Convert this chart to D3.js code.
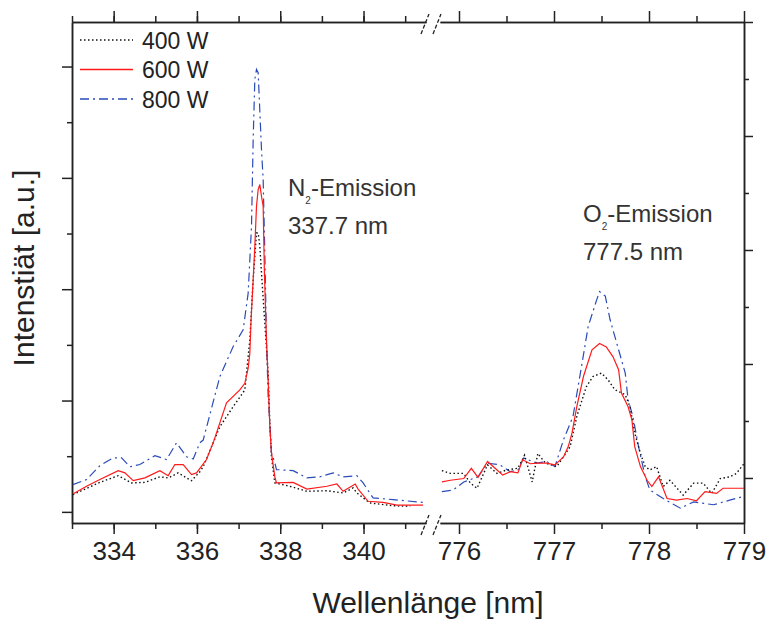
<!DOCTYPE html>
<html>
<head>
<meta charset="utf-8">
<script src="https://cdn.jsdelivr.net/npm/d3@7"></script>
<style>
  body { margin: 0; background: #fff; }
  svg { font-family: "Liberation Sans", Arial, sans-serif; }
</style>
</head>
<body>
<svg width="768" height="621"></svg>
<script>
const width = 768;
const height = 621;

// N2 band (left panel), wavelength in nm / intensity in a.u.
const leftNm400 = [333.02,333.67,334.11,334.43,334.75,335.11,335.31,335.55,335.87,336.07,336.15,336.55,336.87,337.15,337.27,337.35,337.43,337.47,337.51,337.55,337.63,337.71,337.75,337.79,337.87,338.23,338.64,339.12,339.51,339.75,339.84,340.15,340.71,341.12];
const leftI400 = [0.31,0.53,0.65,0.52,0.53,0.63,0.61,0.70,0.56,0.72,0.81,1.53,1.89,2.19,3.09,4.17,5.01,5.01,4.77,4.29,3.39,2.49,1.60,0.99,0.52,0.46,0.37,0.38,0.34,0.43,0.34,0.16,0.11,0.10];

const leftNm600 = [333.02,333.35,333.67,334.11,334.27,334.47,334.75,335.11,335.31,335.47,335.67,335.87,335.99,336.23,336.39,336.71,337.03,337.15,337.23,337.27,337.30,337.35,337.39,337.43,337.47,337.51,337.55,337.59,337.62,337.67,337.71,337.75,337.79,337.87,337.91,338.31,338.64,339.12,339.36,339.51,339.80,339.87,340.11,340.47,340.80,341.43];
const leftI600 = [0.32,0.46,0.58,0.74,0.70,0.56,0.61,0.74,0.65,0.85,0.85,0.67,0.70,0.94,1.24,1.96,2.19,2.31,2.58,2.85,3.45,4.17,4.77,5.49,5.79,5.88,5.67,5.49,4.29,3.09,2.37,1.53,1.06,0.63,0.52,0.53,0.41,0.46,0.50,0.37,0.50,0.41,0.19,0.17,0.12,0.12];

const leftNm800 = [333.02,333.35,333.67,333.99,334.19,334.39,334.63,334.99,335.27,335.51,335.75,335.91,336.07,336.15,336.55,336.87,337.11,337.23,337.31,337.35,337.39,337.43,337.47,337.55,337.59,337.63,337.67,337.71,337.75,337.79,337.87,337.91,338.31,338.64,338.95,339.27,339.51,339.84,339.99,340.23,340.71,341.43];
const leftI800 = [0.49,0.58,0.83,0.97,0.97,0.81,0.85,1.01,0.94,1.24,0.99,0.95,1.24,1.29,2.43,2.97,3.27,3.93,5.13,6.69,7.77,7.95,7.89,6.51,5.97,4.65,3.09,2.07,1.60,1.06,0.88,0.76,0.74,0.61,0.63,0.70,0.63,0.65,0.52,0.25,0.22,0.17];

// O2 line (right panel)
const rightNm400 = [775.82,775.91,776.05,776.12,776.19,776.30,776.40,776.50,776.62,776.69,776.77,776.83,776.91,777.03,777.17,777.24,777.34,777.41,777.50,777.57,777.64,777.75,777.80,777.85,777.91,777.96,778.01,778.08,778.15,778.22,778.36,778.47,778.57,778.66,778.75,778.85,778.92,779.00];
const rightI400 = [0.13,0.08,0.08,-0.09,-0.18,0.23,0.08,0.14,0.17,0.40,-0.07,0.43,0.26,0.20,0.55,1.08,1.60,1.78,1.84,1.72,1.55,1.46,1.25,0.79,0.43,0.20,0.14,0.20,-0.15,-0.04,-0.30,-0.09,-0.09,-0.27,-0.01,0.02,0.08,0.25];

const rightNm600 = [775.82,775.91,776.05,776.13,776.20,776.30,776.38,776.46,776.54,776.62,776.67,776.75,776.82,776.92,777.01,777.10,777.15,777.19,777.24,777.31,777.40,777.48,777.55,777.62,777.68,777.71,777.78,777.82,777.85,777.91,777.98,778.03,778.10,778.19,778.29,778.40,778.50,778.59,778.71,778.78,778.85,779.00];
const rightI600 = [-0.07,-0.04,-0.01,0.17,0.01,0.29,0.17,0.05,0.11,0.09,0.32,0.25,0.26,0.26,0.23,0.37,0.55,0.79,1.25,1.78,2.25,2.36,2.30,2.13,1.90,1.49,1.25,1.02,0.55,0.20,-0.04,-0.15,0.02,-0.36,-0.39,-0.36,-0.40,-0.24,-0.27,-0.18,-0.18,-0.18];

const rightNm800 = [775.82,775.94,776.05,776.20,776.30,776.43,776.54,776.62,776.68,776.82,776.92,777.01,777.10,777.20,777.29,777.36,777.45,777.48,777.54,777.59,777.68,777.75,777.78,777.83,777.89,777.96,778.01,778.15,778.33,778.47,778.68,778.85,779.00];
const rightI800 = [-0.24,-0.21,-0.07,0.02,0.26,0.23,0.11,0.14,0.35,0.26,0.29,0.20,0.67,1.08,1.96,2.66,3.13,3.27,3.19,2.78,2.25,1.84,1.37,1.08,0.55,0.02,-0.21,-0.36,-0.53,-0.42,-0.47,-0.39,-0.32];

const seriesNames = ["400 W", "600 W", "800 W"];
const leftTicksMajor = [334, 336, 338, 340];
const leftTicksMinor = [333, 334, 335, 336, 337, 338, 339, 340, 341];
const rightTicksMajor = [776, 777, 778, 779];
const rightTicksMinor = [776.5, 777.5, 778.5];
const yTicksMajor = [0, 2, 4, 6, 8];
const yTicksMinor = [1, 3, 5, 7];

const styles = {
  "400 W": { color: "#111", dash: "1.5,2.5", width: 1.4 },
  "600 W": { color: "#ff1a1a", dash: null, width: 1.2 },
  "800 W": { color: "#2a4bb8", dash: "9,4,2,4", width: 1.2 }
};

const plotTop = 22, plotBottom = 523;
const xLeft = d3.scaleLinear().domain([333, 341.5]).range([72, 426]);
const xRight = d3.scaleLinear().domain([775.8, 779]).range([440, 744]);
const yLeft = d3.scaleLinear().domain([-0.2, 8.8]).range([plotBottom, plotTop]);
const yRight = d3.scaleLinear().domain([-0.79, 8.0]).range([plotBottom, plotTop]);

const svg = d3.select("svg");
const axisColor = "#222";

function styleAxis(g) {
  g.select(".domain").attr("stroke", axisColor).attr("stroke-width", 1.5);
  g.selectAll(".tick line").attr("stroke", axisColor).attr("stroke-width", 1.5);
}

function xAxes(scale, major, minor) {
  // bottom minor + major
  svg.append("g").attr("transform", `translate(0,${plotBottom})`)
    .call(d3.axisBottom(scale).tickValues(minor).tickSize(6).tickSizeOuter(0).tickFormat(""))
    .call(styleAxis);
  const b = svg.append("g").attr("transform", `translate(0,${plotBottom})`)
    .call(d3.axisBottom(scale).tickValues(major).tickSize(11).tickSizeOuter(0).tickFormat(d3.format("d")))
    .call(styleAxis);
  b.selectAll("text").attr("y", 37).attr("dy", null)
    .attr("font-size", 26).attr("font-family", "Liberation Sans, Arial, sans-serif").attr("fill", "#222");
  // top
  svg.append("g").attr("transform", `translate(0,${plotTop})`)
    .call(d3.axisTop(scale).tickValues(minor).tickSize(6).tickSizeOuter(0).tickFormat(""))
    .call(styleAxis);
  svg.append("g").attr("transform", `translate(0,${plotTop})`)
    .call(d3.axisTop(scale).tickValues(major).tickSize(11).tickSizeOuter(0).tickFormat(""))
    .call(styleAxis);
}

xAxes(xLeft, leftTicksMajor, leftTicksMinor);
xAxes(xRight, rightTicksMajor, rightTicksMinor);

// y axes, no labels
svg.append("g").attr("transform", `translate(${xLeft.range()[0]},0)`)
  .call(d3.axisLeft(yLeft).tickValues(yTicksMinor).tickSize(5).tickSizeOuter(0).tickFormat(""))
  .call(styleAxis);
svg.append("g").attr("transform", `translate(${xLeft.range()[0]},0)`)
  .call(d3.axisLeft(yLeft).tickValues(yTicksMajor).tickSize(10).tickSizeOuter(0).tickFormat(""))
  .call(styleAxis);
svg.append("g").attr("transform", `translate(${xRight.range()[1]},0)`)
  .call(d3.axisRight(yRight).tickValues(yTicksMinor).tickSize(5).tickSizeOuter(0).tickFormat(""))
  .call(styleAxis);
svg.append("g").attr("transform", `translate(${xRight.range()[1]},0)`)
  .call(d3.axisRight(yRight).tickValues(yTicksMajor).tickSize(9).tickSizeOuter(0).tickFormat(""))
  .call(styleAxis);

// axis break marks
const breaks = svg.append("g").attr("stroke", axisColor).attr("stroke-width", 1.3).attr("stroke-dasharray", "4,2");
[xLeft.range()[1] - 1, xRight.range()[0] - 3].forEach(cx => {
  [plotTop, plotBottom].forEach(cy => {
    breaks.append("line")
      .attr("x1", cx - 4).attr("y1", cy + 12)
      .attr("x2", cx + 4).attr("y2", cy - 8);
  });
});

// curves
const lineLeft = d3.line().x(d => xLeft(d[0])).y(d => yLeft(d[1]));
const lineRight = d3.line().x(d => xRight(d[0])).y(d => yRight(d[1]));

const leftData = {
  "400 W": d3.zip(leftNm400, leftI400),
  "600 W": d3.zip(leftNm600, leftI600),
  "800 W": d3.zip(leftNm800, leftI800)
};
const rightData = {
  "400 W": d3.zip(rightNm400, rightI400),
  "600 W": d3.zip(rightNm600, rightI600),
  "800 W": d3.zip(rightNm800, rightI800)
};

["800 W", "400 W", "600 W"].forEach(name => {
  const s = styles[name];
  [[leftData[name], lineLeft], [rightData[name], lineRight]].forEach(([data, gen]) => {
    svg.append("path")
      .attr("d", gen(data))
      .attr("fill", "none")
      .attr("stroke", s.color)
      .attr("stroke-width", s.width)
      .attr("stroke-dasharray", s.dash);
  });
});

// Legend
const legend = svg.append("g");
seriesNames.forEach((name, i) => {
  const s = styles[name];
  const y = 40 + i * 29.5;
  legend.append("line")
    .attr("x1", 80).attr("x2", 133).attr("y1", y).attr("y2", y)
    .attr("stroke", s.color).attr("stroke-width", s.width + 0.3)
    .attr("stroke-dasharray", s.dash);
  legend.append("text")
    .attr("x", 142).attr("y", y + 8.5)
    .attr("font-size", 23).attr("fill", "#222")
    .text(name);
});

// annotations
function annotate(x, y, mol, line2) {
  const t = svg.append("text").attr("x", x).attr("y", y).attr("font-size", 24).attr("fill", "#333");
  t.append("tspan").text(mol);
  t.append("tspan").attr("font-size", 10).attr("dy", 8).text("2");
  t.append("tspan").attr("dy", -8).text("-Emission");
  svg.append("text").attr("x", x).attr("y", y + 38).attr("font-size", 24).attr("fill", "#333").text(line2);
}
annotate(288, 196, "N", "337.7 nm");
annotate(583, 222, "O", "777.5 nm");

// axis titles
svg.append("text")
  .attr("x", 428).attr("y", 613)
  .attr("text-anchor", "middle")
  .attr("font-size", 30).attr("fill", "#222")
  .text("Wellenlänge [nm]");

svg.append("text")
  .attr("transform", "translate(34,268) rotate(-90)")
  .attr("text-anchor", "middle")
  .attr("font-size", 30).attr("fill", "#222")
  .text("Intenstiät [a.u.]");
</script>
</body>
</html>
